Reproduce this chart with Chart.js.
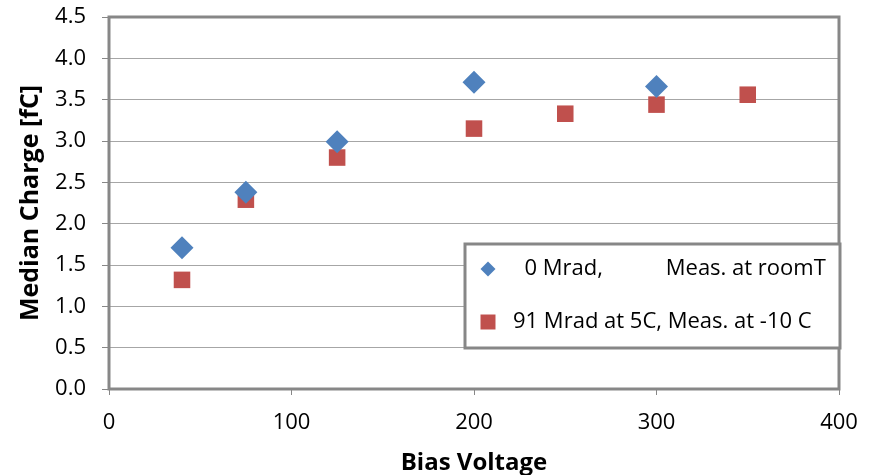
<!DOCTYPE html>
<html>
<head>
<meta charset="utf-8">
<script src="https://cdn.jsdelivr.net/npm/chart.js@4.4.0/dist/chart.umd.min.js"></script>
<style>
  html, body { margin: 0; padding: 0; background: #fff; }
  #wrap { width: 870px; height: 475px; position: relative; }
</style>
</head>
<body>
<div id="wrap"><canvas id="c" width="870" height="475"></canvas></div>
<script>
// ---- data ----
const seriesNames = ["  0 Mrad,           Meas. at roomT", "91 Mrad at 5C, Meas. at -10 C"];
const voltage0 = [40, 75, 125, 200, 300];
const charge0  = [1.71, 2.38, 2.99, 3.71, 3.66];
const voltage91 = [40, 75, 125, 200, 250, 300, 350];
const charge91  = [1.32, 2.29, 2.80, 3.15, 3.33, 3.44, 3.56];
const xTitle = "Bias Voltage";
const yTitle = "Median Charge [fC]";

const toPoints = (xs, ys) => xs.map((x, i) => ({ x: x, y: ys[i] }));

const FONT = "'Open Sans', Lato, sans-serif";
const AXIS_GRAY = '#878787';

const framePlugin = {
  id: 'frameAndLegend',
  afterDraw(chart, args, opts) {
    const ctx = chart.ctx;
    const ca = chart.chartArea;
    ctx.save();
    // plot frame
    ctx.strokeStyle = AXIS_GRAY;
    ctx.lineWidth = 3;
    ctx.strokeRect(ca.left, ca.top, ca.right - ca.left, ca.bottom - ca.top);
    // legend box
    const b = opts.box;
    ctx.fillStyle = '#ffffff';
    ctx.fillRect(b.left, b.top, b.right - b.left, b.bottom - b.top);
    ctx.strokeStyle = AXIS_GRAY;
    ctx.lineWidth = 3;
    ctx.strokeRect(b.left, b.top, b.right - b.left, b.bottom - b.top);
    ctx.font = opts.font;
    ctx.textBaseline = 'middle';
    ctx.textAlign = 'left';
    chart.data.datasets.forEach((ds, i) => {
      const y = b.top + opts.rowY[i];
      ctx.fillStyle = ds.backgroundColor;
      Chart.helpers.drawPoint(ctx, { pointStyle: ds.pointStyle, radius: opts.markerRadius[i], borderWidth: 0, rotation: 0 }, b.left + opts.markerX, y);
      ctx.fillStyle = '#000000';
      ctx.fillText(ds.label, b.left + opts.textX, y);
    });
    ctx.restore();
  }
};

new Chart(document.getElementById('c'), {
  type: 'scatter',
  data: {
    datasets: [
      {
        label: seriesNames[0],
        data: toPoints(voltage0, charge0),
        pointStyle: 'rectRot',
        pointRadius: 11.5,
        pointHoverRadius: 11.5,
        backgroundColor: '#4F81BD',
        borderColor: '#4F81BD',
        borderWidth: 0
      },
      {
        label: seriesNames[1],
        data: toPoints(voltage91, charge91),
        pointStyle: 'rect',
        pointRadius: 11.7,
        pointHoverRadius: 11.7,
        backgroundColor: '#C0504D',
        borderColor: '#C0504D',
        borderWidth: 0
      }
    ]
  },
  options: {
    responsive: false,
    animation: false,
    layout: { padding: { left: 0, top: 17, right: 31, bottom: 0 } },
    plugins: {
      legend: { display: false },
      tooltip: { enabled: false },
      frameAndLegend: {
        box: { left: 465, top: 244, right: 840, bottom: 348 },
        rowY: [25, 78],
        markerX: 23,
        markerRadius: [7.5, 10.6],
        textX: 48,
        font: "22px " + FONT
      }
    },
    scales: {
      x: {
        type: 'linear',
        min: 0, max: 400,
        afterFit(scale) { scale.height = 86; scale.paddingLeft = 0; scale.paddingRight = 0; },
        ticks: { stepSize: 100, color: '#000', font: { family: FONT, size: 22 }, padding: 15, maxRotation: 0 },
        grid: { drawOnChartArea: false, drawTicks: true, tickLength: 6, tickColor: AXIS_GRAY, color: AXIS_GRAY },
        border: { display: false },
        title: { display: true, text: xTitle, color: '#000', font: { family: FONT, size: 24, weight: 'bold', lineHeight: 1.0 }, padding: { top: 0, bottom: 0 } }
      },
      y: {
        min: 0, max: 4.5,
        afterFit(scale) { scale.width = 109; scale.paddingTop = 0; scale.paddingBottom = 0; },
        ticks: { stepSize: 0.5, color: '#000', font: { family: FONT, size: 22 }, padding: 16, callback: v => v.toFixed(1) },
        grid: { color: '#A6A6A6', lineWidth: 1, drawTicks: true, tickLength: 7, tickColor: AXIS_GRAY },
        border: { display: false },
        title: { display: true, text: yTitle, color: '#000', font: { family: FONT, size: 25, weight: 'bold', lineHeight: 1.0 }, padding: { top: 18, bottom: 0 } }
      }
    }
  },
  plugins: [framePlugin]
});
</script>
</body>
</html>
